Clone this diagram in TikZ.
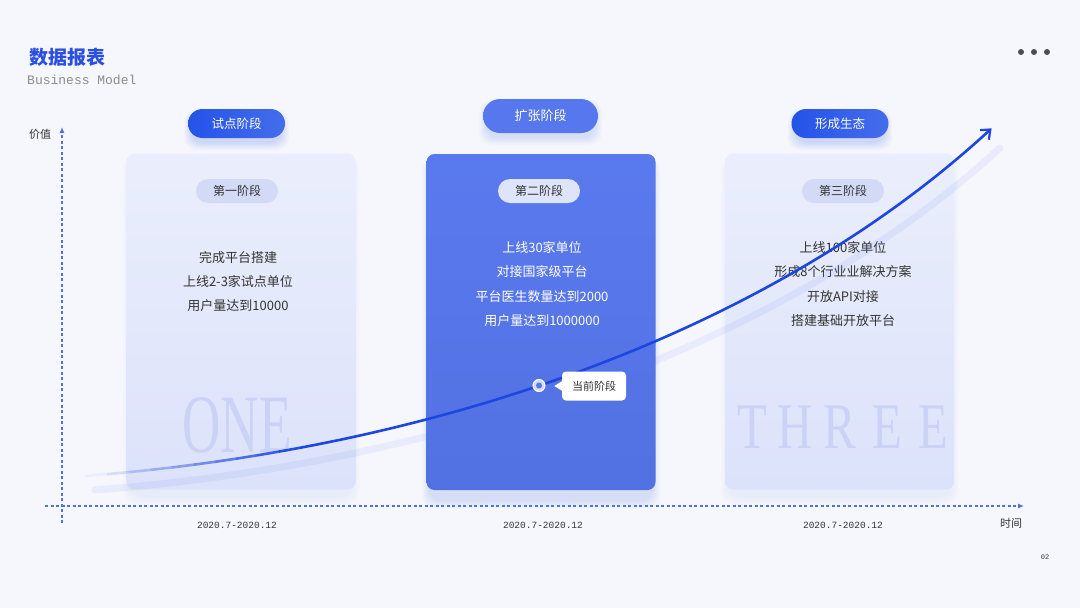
\documentclass[tikz,border=0pt]{standalone}
\usepackage{fontspec}
\usepackage{graphicx}
\setmainfont{Liberation Serif}
\setmonofont{Liberation Mono}
\newfontfamily\cjk{Noto Sans CJK SC}
\usetikzlibrary{positioning,arrows.meta}
\definecolor{pagebg}{HTML}{F6F7FD}
\definecolor{titleblue}{HTML}{2A4FE2}
\definecolor{pillblue}{HTML}{2453E8}
\definecolor{midblue}{HTML}{5677EE}
\definecolor{cardtop}{HTML}{EAEEFC}
\definecolor{cardbot}{HTML}{DCE2FA}
\definecolor{innerpill}{HTML}{D3DAF6}
\definecolor{midpill}{HTML}{DEE4FA}
\definecolor{ink}{HTML}{333333}
\definecolor{inkgrey}{HTML}{8C8C8C}
\definecolor{axisblue}{HTML}{4F70E6}
\definecolor{curveblue}{HTML}{1D46E0}
\definecolor{watermark}{HTML}{CAD2F6}
\definecolor{dotgrey}{HTML}{4A4D55}
\newcommand{\softglow}[5]{\foreach \g in {1,...,8}{\fill[#5,opacity=.025,rounded corners=12pt](#1-\g,#2-\g+6) rectangle(#3+\g,#4+\g+6);}}
\tikzset{
  stagecard/.style={rounded corners=8pt,minimum width=229pt,minimum height=336pt,inner sep=0pt},
  stagepill/.style={rounded corners=14.5pt,minimum width=97pt,minimum height=29pt,left color=pillblue,right color=pillblue!85!white,text=white,font=\cjk\fontsize{12.5}{14}\selectfont},
  phasetag/.style={rounded corners=12pt,minimum width=82pt,minimum height=24pt,text=ink,font=\cjk\fontsize{12}{14}\selectfont},
  cardline/.style={font=\cjk\fontsize{13}{24.2}\selectfont,align=center},
  datelabel/.style={font=\ttfamily\fontsize{9.5}{11}\selectfont,text=ink},
  axisline/.style={axisblue,line width=1.1pt,dash pattern=on 3pt off 2.5pt,-{Latex[length=6pt,width=5pt]}},
  smalllabel/.style={font=\cjk\fontsize{11}{13}\selectfont,text=ink},
  growth/.style={curveblue,line width=2.6pt}
}
\begin{document}
\begin{tikzpicture}[x=1pt,y=-1pt,
  declare function={cx(\t)=(1-\t)^3*85+3*(1-\t)^2*\t*450+3*(1-\t)*\t^2*780+\t^3*992;
                    cy(\t)=(1-\t)^3*476+3*(1-\t)^2*\t*448+3*(1-\t)*\t^2*325+\t^3*128;}]
  \useasboundingbox (0,0) rectangle (1080,608);
  \fill[pagebg](0,0) rectangle(1080,608);
  % header
  \node[anchor=west,font=\cjk\bfseries\fontsize{19}{21}\selectfont,text=titleblue,inner sep=0pt] (title) at (29,57){数据报表};
  \node[anchor=west,font=\ttfamily\fontsize{13}{15}\selectfont,text=inkgrey,inner sep=0pt] (subtitle) at (27,80){Business Model};
  \foreach \x in {1021,1034,1047} \fill[dotgrey] (\x,52) circle(3pt);
  % cards
  \softglow{131}{158}{351}{490}{midblue!40}
  \softglow{430}{160}{652}{494}{midblue}
  \softglow{729}{158}{950}{490}{midblue!40}
  \softglow{192}{112}{281}{136}{pillblue}
  \softglow{487}{102}{594}{131}{midblue}
  \softglow{796}{112}{884}{136}{pillblue}
  \node[stagecard,top color=cardtop,bottom color=cardbot] (cardone) at (241,321.5){};
  \node[stagecard,top color=midblue!98!white,bottom color=midblue!95!black] (cardtwo) at (541,322){};
  \node[stagecard,top color=cardtop,bottom color=cardbot] (cardthree) at (839.5,321.5){};
  \node[font=\fontsize{83}{83}\selectfont,text=watermark] (markone) at (237,425){\scalebox{.64}[1]{ONE}};
  \foreach \l/\x in {T/752,H/795,R/840,E/887,E/933}
    \node[font=\fontsize{65}{65}\selectfont,text=watermark] (mark\x) at (\x,427){\scalebox{.75}[1]{\l}};
  % stage pills
  \node[stagepill] (pilone) at (236.5,123.5){试点阶段};
  \node[stagepill,left color=midblue,right color=midblue,minimum width=115pt,minimum height=34pt,rounded corners=17pt,font=\cjk\fontsize{13}{15}\selectfont] (piltwo) at (540.5,116){扩张阶段};
  \node[stagepill] (pilthree) at (840,123.5){形成生态};
  \node[phasetag,fill=innerpill] (tagone) at (237,191){第一阶段};
  \node[phasetag,fill=midpill] (tagtwo) at (539,191){第二阶段};
  \node[phasetag,fill=innerpill] (tagthree) at (843,191){第三阶段};
  \node[cardline,text=ink] (textone) at (238,281.5){完成平台搭建\\上线2-3家试点单位\\用户量达到10000};
  \node[cardline,text=white] (texttwo) at (542,284){上线30家单位\\对接国家级平台\\平台医生数量达到2000\\用户量达到1000000};
  \node[cardline,text=ink] (textthree) at (843,284){上线100家单位\\形成8个行业业解决方案\\开放API对接\\搭建基础开放平台};
  % axes
  \coordinate (yfoot) at (62,523); \coordinate (ytop) at (62,127);
  \coordinate (xfoot) at (45,506); \coordinate (xtip) at (1024,506);
  \draw[axisline] (yfoot) -- (ytop); \draw[axisline] (xfoot) -- (xtip);
  \node[smalllabel] (yname) at (40,134){价值};
  \node[smalllabel] (xname) at (1011,523){时间};
  \foreach \x/\n in {237/one,543/two,843/three} \node[datelabel] (date\n) at (\x,525){2020.7-2020.12};
  \node[font=\ttfamily\fontsize{7}{8}\selectfont,text=ink] (pageno) at (1045,557){02};
  % growth curve
  \draw[midblue,line width=7pt,opacity=.09,line cap=round] (95,490) .. controls (460,462) and (790,340) .. (1000,148);
  \foreach \i [evaluate=\i as \t using \i*0.02, evaluate=\i as \op using \i*0.1+0.05] in {0,...,9}
    \draw[growth,opacity=\op] ({cx(\t)},{cy(\t)}) -- ({cx(\t+0.02)},{cy(\t+0.02)});
  \draw[growth,-{Straight Barb[length=8pt,width=13pt,line width=2.2pt]}] plot[domain=0.2:1,samples=60,smooth] ({cx(\x)},{cy(\x)});
  \node[circle,fill=innerpill,draw=white,line width=1pt,minimum size=12pt,inner sep=0pt] (nowdot) at (539,385.5){};
  \fill[midblue] (nowdot) circle(3pt);
  \node[fill=white,rounded corners=4pt,minimum width=64pt,minimum height=29pt,smalllabel] (nowtag) at (594,386){当前阶段};
  \fill[white] (nowtag.west) ++(0.5,-5) -- ++(-8,5) -- ++(8,5) -- cycle;
\end{tikzpicture}
\end{document}
